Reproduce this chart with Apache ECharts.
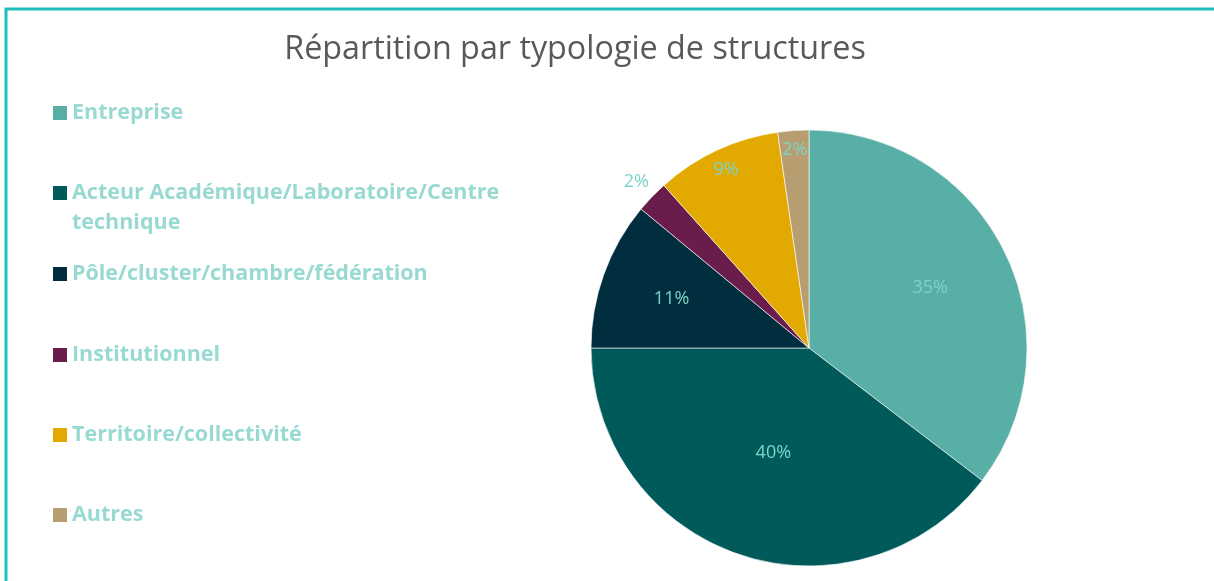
<!DOCTYPE html>
<html lang="fr">
  <head>
    <meta charset="UTF-8" />
    <title>Répartition par typologie de structures</title>
    <script src="https://cdn.jsdelivr.net/npm/echarts@6/dist/echarts.min.js"></script>
    <style>
      html, body { margin: 0; padding: 0; background: #fff; }
      #main { width: 1214px; height: 581px; }
    </style>
  </head>
  <body>
    <div id="main"></div>
  </body>
  <script>
    // données
    const categories = [
      "Entreprise",
      "Acteur Académique/Laboratoire/Centre\ntechnique",
      "Pôle/cluster/chambre/fédération",
      "Institutionnel",
      "Territoire/collectivité",
      "Autres",
    ];
    const values = [35.4, 39.6, 11.0, 2.4, 9.3, 2.3];

    // styles
    const colors = ["#58afa5", "#005a5a", "#002e3f", "#6a1d4b", "#e2aa00", "#b79e70"];
    const legendTops = [98, 148, 259, 340, 420, 500];
    const labelRadius = [0.62, 0.51, 0.67, 1.1, 0.9, 0.91];
    const cx = 809, cy = 348, r = 218;
    const labelColor = "#7ed3c8";

    var myChart = echarts.init(document.getElementById("main"));

    // une légende par entrée pour garder l'espacement régulier
    const legends = categories.map(function (name, i) {
      return {
        data: [name],
        orient: "vertical",
        left: 53,
        top: legendTops[i],
        padding: 0,
        icon: "rect",
        itemWidth: 14,
        itemHeight: 14,
        itemStyle: { borderWidth: 0 },
        selectedMode: false,
        formatter: function (n) {
          // première ligne alignée sur le carré
          return n.indexOf("\n") >= 0 ? "\n" + n : n;
        },
        textStyle: {
          color: "#98dad2",
          fontFamily: "Open Sans",
          fontWeight: "bold",
          fontSize: 21.5,
          lineHeight: 30,
        },
      };
    });

    var option = {
      color: colors,
      title: {
        text: "Répartition par typologie de structures",
        left: 570,
        textAlign: "center",
        top: 24,
        textStyle: {
          color: "#595959",
          fontFamily: "Open Sans",
          fontWeight: "normal",
          fontSize: 32.3,
          lineHeight: 42,
        },
      },
      graphic: [
        {
          type: "rect",
          shape: { x: 6, y: 9, width: 1400, height: 800 },
          style: { fill: "none", stroke: "#20bfbf", lineWidth: 3 },
          silent: true,
        },
      ],
      legend: legends,
      series: [
        {
          type: "pie",
          center: [cx, cy],
          radius: [0, r],
          startAngle: 90,
          clockwise: true,
          animation: false,
          data: categories.map(function (name, i) {
            return { name: name, value: values[i] };
          }),
          itemStyle: { borderColor: "#ffffff", borderWidth: 0.6 },
          label: {
            show: true,
            position: "inside",
            color: labelColor,
            fontFamily: "Open Sans",
            fontSize: 18,
            formatter: function (p) {
              return Math.round(p.percent) + "%";
            },
          },
          labelLine: { show: false },
          labelLayout: function (p) {
            const lx = p.labelRect.x + p.labelRect.width / 2 - cx;
            const ly = p.labelRect.y + p.labelRect.height / 2 - cy;
            const d = Math.sqrt(lx * lx + ly * ly) || 1;
            const k = (labelRadius[p.dataIndex] * r) / d;
            return {
              x: cx + lx * k,
              y: cy + ly * k,
              align: "center",
              verticalAlign: "middle",
            };
          },
        },
      ],
    };
    option && myChart.setOption(option);
  </script>
</html>
